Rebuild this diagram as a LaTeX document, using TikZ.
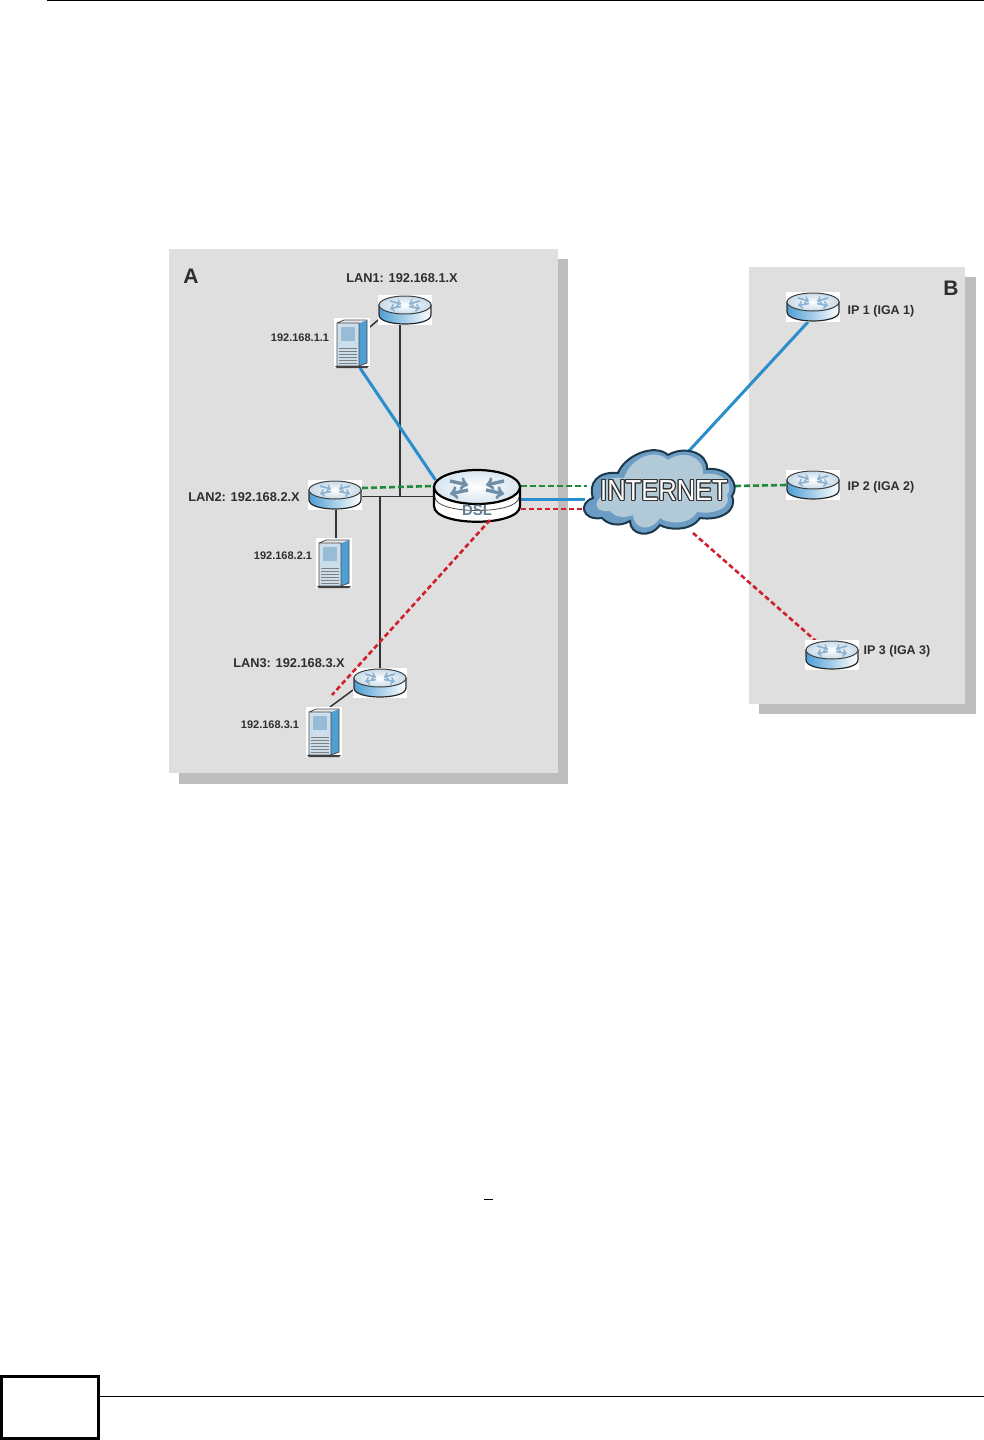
\documentclass[tikz,border=0pt]{standalone}
\usepackage{fontspec}
\setmainfont{Liberation Sans}
\usepackage{contour}
\contourlength{1.2pt}
\definecolor{panelgray}{HTML}{DFDFDF}
\definecolor{shadowgray}{HTML}{BDBDBD}
\definecolor{netblue}{HTML}{2A8ECC}
\definecolor{netgreen}{HTML}{1F8A3C}
\definecolor{netred}{HTML}{D0202C}
\definecolor{routerblue}{HTML}{4E9FD4}
\definecolor{paleblue}{HTML}{8DB4D2}
\definecolor{cloudblue}{HTML}{B2C9D7}
\definecolor{cloudedge}{HTML}{6A9CC4}
\definecolor{labelgray}{HTML}{2E2E2E}
\tikzset{
	blueline/.style={netblue,line width=3pt},
	greenline/.style={netgreen,line width=2.6pt,dash pattern=on 6pt off 3pt},
	redline/.style={netred,line width=2.6pt,dash pattern=on 5pt off 3pt},
	lanline/.style={black!80,line width=1.5pt},
	devbox/.style={inner sep=0pt,outer sep=0pt},
	biglabel/.style={font=\fontsize{12.8}{12.8}\selectfont\bfseries,text=labelgray,inner sep=0pt},
	iplabel/.style={font=\fontsize{11}{11}\selectfont\bfseries,text=labelgray,inner sep=0pt},
	ipnamelabel/.style={font=\fontsize{12.5}{12.5}\selectfont\bfseries,text=labelgray,inner sep=0pt},
	router/.pic={
		\fill[white] (-27,-15) rectangle (27,15);
		\draw[black!85,line width=1.2pt,left color=routerblue,right color=white] (-26,-5) -- (-26,5) .. controls (-26,17) and (26,17) .. (26,5) -- (26,-5) -- cycle;
		\draw[black!75,line width=1pt,inner color=white,outer color=paleblue!50] (0,-5) ellipse [x radius=26,y radius=9];
		\draw[paleblue,line width=1.8pt,->] (-15,-9) -- (-4,-6);
		\draw[paleblue,line width=1.8pt,->] (15,-9) -- (4,-6);
		\draw[paleblue,line width=1.8pt,->] (-4,-3.5) -- (-15,-1.5);
		\draw[paleblue,line width=1.8pt,->] (4,-3.5) -- (15,-1.5);
	},
	server/.pic={
		\fill[white] (-18,-25) rectangle (18,25);
		\fill[routerblue] (7,-20) -- (15,-23) -- (15,20) -- (7,23) -- cycle;
		\fill[black!10] (-15,-20) -- (-8,-23) -- (15,-23) -- (7,-20) -- cycle;
		\fill[paleblue!45] (-15,-20) rectangle (7,23);
		\draw[black!70,line width=.8pt] (-15,-20) -- (-8,-23) -- (15,-23) -- (15,20) -- (7,23) -- (-15,23) -- cycle (-15,-20) -- (7,-20) -- (7,23);
		\fill[paleblue!90] (-11,-16) rectangle (3,-2);
		\foreach \ypos in {5,8,11,14,17,20}{
			\draw[black!50,line width=.7pt] (-13,\ypos) -- (5,\ypos);
		}
		\fill[black!75] (-17,23) -- (17,23) -- (15,25) -- (-15,25) -- cycle;
	},
	dslrouter/.pic={
		\fill[white,draw=black,line width=2.2pt] (-43,-9) -- (-43,10) .. controls (-43,31) and (43,31) .. (43,10) -- (43,-9) -- cycle;
		\draw[black!70,line width=.8pt] (-42,1) .. controls (-42,19) and (42,19) .. (42,1);
		\draw[black,line width=2.2pt,inner color=white,outer color=paleblue!35] (0,-9) ellipse [x radius=43,y radius=17];
		\draw[paleblue!80!black,line width=3.4pt,->] (-27,-15) -- (-9,-11);
		\draw[paleblue!80!black,line width=3.4pt,->] (27,-15) -- (9,-11);
		\draw[paleblue!80!black,line width=3.4pt,->] (-9,-6) -- (-27,-2);
		\draw[paleblue!80!black,line width=3.4pt,->] (9,-6) -- (27,-2);
	},
	cloudshape/.pic={
		\fill[cloudedge,draw=black!65!routerblue,line width=2pt] (-58,27) .. controls (-78,30) and (-82,12) .. (-67,7) .. controls (-72,-8) and (-62,-20) .. (-42,-18) .. controls (-35,-36) and (-5,-48) .. (8,-36) .. controls (25,-46) and (48,-38) .. (47,-22) .. controls (70,-24) and (80,-5) .. (72,5) .. controls (78,20) and (60,30) .. (40,27) .. controls (30,42) and (5,38) .. (0,34) .. controls (-10,48) and (-30,44) .. (-30,30) .. controls (-40,36) and (-52,34) .. (-58,27) -- cycle;
		\fill[cloudblue] (-50,20) .. controls (-64,22) and (-68,12) .. (-58,5) .. controls (-62,-8) and (-54,-15) .. (-36,-13) .. controls (-30,-32) and (-6,-44) .. (8,-31) .. controls (24,-42) and (44,-34) .. (43,-17) .. controls (66,-20) and (74,-4) .. (67,4) .. controls (72,16) and (56,24) .. (37,21) .. controls (28,36) and (6,32) .. (0,27) .. controls (-10,42) and (-26,38) .. (-27,24) .. controls (-38,28) and (-46,25) .. (-50,20) -- cycle;
	},
}

\begin{document}
\begin{tikzpicture}[x=1pt,y=-1pt]
	\useasboundingbox (0,0) rectangle (984,1440);
	%PAGE FRAME
	\draw[black,line width=1.3pt] (47,.5) -- (984,.5);
	\draw[black,line width=1.2pt] (100,1396.5) -- (984,1396.5);
	\draw[black,line width=3pt] (1.5,1376.5) rectangle (98.5,1438.5);
	\draw[black,line width=1pt] (484,1199.5) -- (493,1199.5);
	%PANELS
	\fill[shadowgray] (179,259) rectangle (568,784);
	\fill[panelgray] (169,249) rectangle (558,773);
	\fill[shadowgray] (759,277) rectangle (976,714);
	\fill[panelgray] (749,267) rectangle (965,704);
	%DEVICE NODES
	\node[devbox,minimum width=54pt,minimum height=30pt] (lan1) at (405,310) {};
	\node[devbox,minimum width=54pt,minimum height=30pt] (lan2) at (335,495) {};
	\node[devbox,minimum width=54pt,minimum height=30pt] (lan3) at (380,683) {};
	\node[devbox,minimum width=54pt,minimum height=30pt] (ip1) at (813,307) {};
	\node[devbox,minimum width=54pt,minimum height=30pt] (ip2) at (813,485) {};
	\node[devbox,minimum width=54pt,minimum height=30pt] (ip3) at (832,655) {};
	\node[devbox,minimum width=36pt,minimum height=50pt] (srv1) at (352,343) {};
	\node[devbox,minimum width=36pt,minimum height=50pt] (srv2) at (334,563) {};
	\node[devbox,minimum width=36pt,minimum height=50pt] (srv3) at (324,732) {};
	\node[devbox,minimum width=87pt,minimum height=52pt] (dsl) at (477,496) {};
	\node[devbox,minimum width=150pt,minimum height=88pt] (cloud) at (660,491) {};
	\coordinate (jointa) at (lan1.south |- dsl.west);
	\coordinate (jointb) at (lan3.north |- dsl.west);
	%LINES
	\draw[lanline] ([xshift=-5pt]lan1.south) -- ([xshift=-5pt,yshift=-1pt]jointa);
	\draw[lanline] ([yshift=-1.5pt]lan2.east) -- ([yshift=-.5pt]dsl.west);
	\draw[lanline] (jointb) -- (lan3.north);
	\draw[lanline] ([xshift=1pt]lan2.south) -- ([xshift=2pt]srv2.north);
	\draw[lanline] ([yshift=-10pt]lan1.west) -- ([yshift=16pt]srv1.east);
	\draw[lanline] ([yshift=-7pt]lan3.west) -- ([xshift=6pt]srv3.north);
	\draw[blueline] ([xshift=8pt]srv1.south) -- ([xshift=2pt,yshift=16pt]dsl.west);
	\draw[blueline] ([yshift=-3pt]dsl.east) -- ([yshift=-8pt]cloud.west);
	\draw[blueline] ([xshift=27pt,yshift=-6pt]cloud.north) -- ([xshift=-5pt]ip1.south);
	\draw[greenline] ([yshift=7pt]lan2.east) -- ([yshift=10pt]dsl.west);
	\draw[greenline] ([yshift=10pt]dsl.east) -- ([xshift=2pt,yshift=5pt]cloud.west);
	\draw[greenline] ([yshift=5pt]cloud.east) -- (ip2.west);
	\draw[redline] ([yshift=-13pt]dsl.east) -- ([xshift=2pt,yshift=-18pt]cloud.west);
	\draw[redline] ([xshift=33pt,yshift=2pt]cloud.south) -- ([xshift=-15pt,yshift=-2pt]ip3.north);
	%DEVICES
	\pic at (lan1) {router};
	\pic at (lan2) {router};
	\pic at (lan3) {router};
	\pic at (ip1) {router};
	\pic at (ip2) {router};
	\pic at (ip3) {router};
	\pic at (srv1) {server};
	\pic at (srv2) {server};
	\pic at (srv3) {server};
	\pic at (dsl) {dslrouter};
	\pic at (cloud) {cloudshape};
	\draw[redline] ([xshift=13pt,yshift=2pt]dsl.south) -- ([xshift=8pt,yshift=12pt]srv3.north);
	\node[devbox,font=\bfseries\fontsize{15}{15}\selectfont,text=paleblue!70!black] (dsltext) at (477,510) {DSL};
	\node[devbox,font=\fontsize{29}{29}\selectfont,xscale=.88] (nettext) at (664,491) {\contour{black!80}{\textcolor{white}{INTERNET}}};
	%LABELS
	\node[biglabel,font=\fontsize{21}{21}\selectfont\bfseries] (labela) at (191,276) {A};
	\node[biglabel,font=\fontsize{21}{21}\selectfont\bfseries] (labelb) at (951,288) {B};
	\node[biglabel] (namelan1) at (402,278) {LAN1: 192.168.1.X};
	\node[biglabel] (namelan2) at (244,497) {LAN2: 192.168.2.X};
	\node[biglabel] (namelan3) at (289,663) {LAN3: 192.168.3.X};
	\node[iplabel] (addr1) at (300,338) {192.168.1.1};
	\node[iplabel] (addr2) at (283,556) {192.168.2.1};
	\node[iplabel] (addr3) at (270,725) {192.168.3.1};
	\node[ipnamelabel] (nameip1) at (881,311) {IP 1 (IGA 1)};
	\node[ipnamelabel] (nameip2) at (881,487) {IP 2 (IGA 2)};
	\node[ipnamelabel] (nameip3) at (897,651) {IP 3 (IGA 3)};
\end{tikzpicture}
\end{document}
